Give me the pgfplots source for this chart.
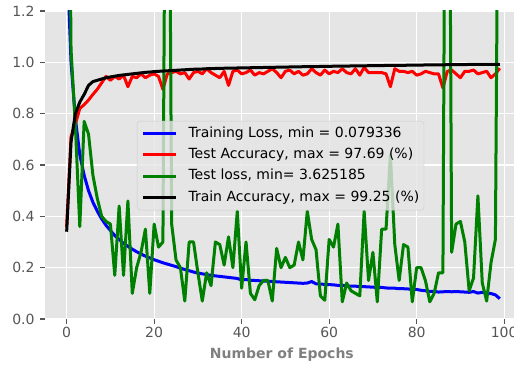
\documentclass[border=0pt]{standalone}
\usepackage{fontspec}
\setmainfont{DejaVu Sans}
\usepackage{pgfplots}
\pgfplotsset{compat=1.18}
\usepackage{pgfplotstable}
\definecolor{bgc}{HTML}{E5E5E5}
\definecolor{tickc}{HTML}{555555}
\definecolor{labc}{HTML}{808080}
\definecolor{legedge}{HTML}{CCCCCC}
\definecolor{mplgreen}{HTML}{008000}

\pgfplotstableread{
ep trl tacc tloss tracc
0 1.45 0.36 3.0 0.34
1 1.00 0.71 1.05 0.69
2 0.78 0.76 0.75 0.80
3 0.64 0.82 0.36 0.845
4 0.56 0.835 0.77 0.875
5 0.50 0.853 0.72 0.91
6 0.455 0.875 0.56 0.925
7 0.42 0.895 0.47 0.93
8 0.39 0.92 0.40 0.935
9 0.365 0.945 0.38 0.94
10 0.345 0.93 0.37 0.943
11 0.325 0.945 0.17 0.946
12 0.31 0.935 0.44 0.949
13 0.295 0.95 0.17 0.951
14 0.283 0.905 0.46 0.953
15 0.272 0.945 0.10 0.955
16 0.262 0.94 0.20 0.957
17 0.253 0.955 0.26 0.959
18 0.245 0.94 0.35 0.961
19 0.238 0.95 0.10 0.962
20 0.231 0.955 0.37 0.964
21 0.225 0.945 0.28 0.965
22 0.219 0.895 0.30 0.966
23 0.214 0.955 3.2 0.967
24 0.209 0.96 0.37 0.968
25 0.204 0.965 0.23 0.969
26 0.198 0.955 0.20 0.970
27 0.193 0.96 0.07 0.971
28 0.188 0.935 0.30 0.972
29 0.183 0.96 0.30 0.973
30 0.179 0.965 0.18 0.974
31 0.176 0.955 0.07 0.974
32 0.173 0.975 0.18 0.975
33 0.170 0.96 0.13 0.975
34 0.168 0.95 0.30 0.976
35 0.166 0.94 0.29 0.976
36 0.164 0.965 0.21 0.977
37 0.162 0.91 0.32 0.977
38 0.160 0.965 0.20 0.977
39 0.158 0.97 0.42 0.978
40 0.152 0.955 0.12 0.978
41 0.154 0.96 0.30 0.978
42 0.151 0.97 0.10 0.979
43 0.150 0.95 0.075 0.979
44 0.149 0.96 0.13 0.979
45 0.148 0.955 0.15 0.980
46 0.147 0.965 0.15 0.980
47 0.146 0.975 0.07 0.980
48 0.145 0.96 0.275 0.981
49 0.144 0.94 0.20 0.981
50 0.143 0.965 0.24 0.981
51 0.142 0.97 0.20 0.982
52 0.141 0.955 0.21 0.982
53 0.140 0.965 0.30 0.982
54 0.139 0.95 0.23 0.983
55 0.140 0.955 0.42 0.983
56 0.146 0.975 0.31 0.983
57 0.137 0.96 0.27 0.983
58 0.136 0.95 0.09 0.984
59 0.135 0.97 0.073 0.984
60 0.134 0.955 0.31 0.984
61 0.133 0.965 0.28 0.985
62 0.131 0.96 0.37 0.985
63 0.131 0.975 0.067 0.985
64 0.129 0.96 0.14 0.985
65 0.128 0.955 0.11 0.986
66 0.128 0.975 0.10 0.986
67 0.126 0.95 0.09 0.986
68 0.126 0.98 0.42 0.986
69 0.125 0.96 0.15 0.987
70 0.124 0.96 0.26 0.987
71 0.123 0.96 0.067 0.987
72 0.123 0.96 0.35 0.987
73 0.121 0.955 0.35 0.988
74 0.120 0.905 0.64 0.988
75 0.120 0.975 0.29 0.988
76 0.118 0.965 0.15 0.988
77 0.118 0.965 0.29 0.988
78 0.117 0.96 0.28 0.989
79 0.116 0.965 0.067 0.989
80 0.115 0.95 0.20 0.989
81 0.112 0.955 0.20 0.989
82 0.110 0.965 0.15 0.990
83 0.107 0.96 0.067 0.990
84 0.108 0.955 0.10 0.990
85 0.105 0.955 0.18 0.990
86 0.106 0.90 0.18 0.990
87 0.107 0.965 3.6 0.991
88 0.106 0.97 0.26 0.991
89 0.107 0.955 0.37 0.991
90 0.106 0.94 0.38 0.991
91 0.105 0.965 0.30 0.991
92 0.104 0.965 0.11 0.992
93 0.107 0.97 0.16 0.992
94 0.101 0.955 0.48 0.992
95 0.104 0.96 0.14 0.992
96 0.101 0.965 0.07 0.992
97 0.099 0.94 0.22 0.9925
98 0.094 0.955 0.31 0.9925
99 0.0793 0.9769 2.8 0.9925
}\datatable

\begin{document}
\begin{tikzpicture}
\begin{axis}[
  scale only axis,
  width=469pt, height=308pt,
  xmin=-4.95, xmax=102.25, ymin=0, ymax=1.2,
  xtick={0,20,40,60,80,100},
  ytick={0,0.2,0.4,0.6,0.8,1.0,1.2},
  axis background/.style={fill=bgc},
  axis line style={draw=none},
  grid=major,
  major grid style={white, line width=1.1pt},
  tick pos=left,
  tick align=outside,
  major tick length=4.9pt,
  major tick style={tickc, line width=1.1pt},
  ticklabel style={font=\fontsize{14}{16}\selectfont, text=tickc},
  /pgf/number format/assume math mode=true,
  yticklabel style={xshift=-2pt, /pgf/number format/.cd, fixed, fixed zerofill, precision=1},
  xticklabel style={/pgf/number format/.cd, fixed, precision=0},
  xlabel={Number of Epochs},
  xlabel style={font=\fontsize{14}{16}\selectfont\bfseries, text=labc,
    at={(axis description cs:0.505,0)}, anchor=base, yshift=-39.3pt},
  legend cell align=left,
  legend image code/.code={\draw[#1] (0pt,0pt) -- (33pt,0pt);},
  legend style={at={(rel axis cs:0.196,0.643)}, anchor=north west,
    fill=bgc, fill opacity=0.8, text opacity=1, draw=legedge, draw opacity=1,
    rounded corners=3pt, font=\fontsize{14}{16}\selectfont,
    inner xsep=4.7pt, inner ysep=5.5pt, column sep=10.7pt, row sep=7.3pt,
    nodes={inner sep=0pt, text height=10.5pt, text depth=3.5pt}},
  every axis plot/.append style={line width=3pt, line join=round},
]
\coordinate (bl) at (rel axis cs:0,0);
\coordinate (tr) at (rel axis cs:1,1);
\addplot[blue] table[x=ep, y=trl] {\datatable};
\addlegendentry{Training Loss, min = 0.079336}
\addplot[red] table[x=ep, y=tacc] {\datatable};
\addlegendentry{Test Accuracy, max = 97.69 (\%)}
\addplot[mplgreen] table[x=ep, y=tloss] {\datatable};
\addlegendentry{Test loss, min= 3.625185}
\addplot[black] table[x=ep, y=tracc] {\datatable};
\addlegendentry{Train Accuracy, max = 99.25 (\%)}
\end{axis}
\pgfresetboundingbox
\path[use as bounding box] ([xshift=-45pt,yshift=-50pt]bl) rectangle ([yshift=11pt]tr);
\end{tikzpicture}
\end{document}
